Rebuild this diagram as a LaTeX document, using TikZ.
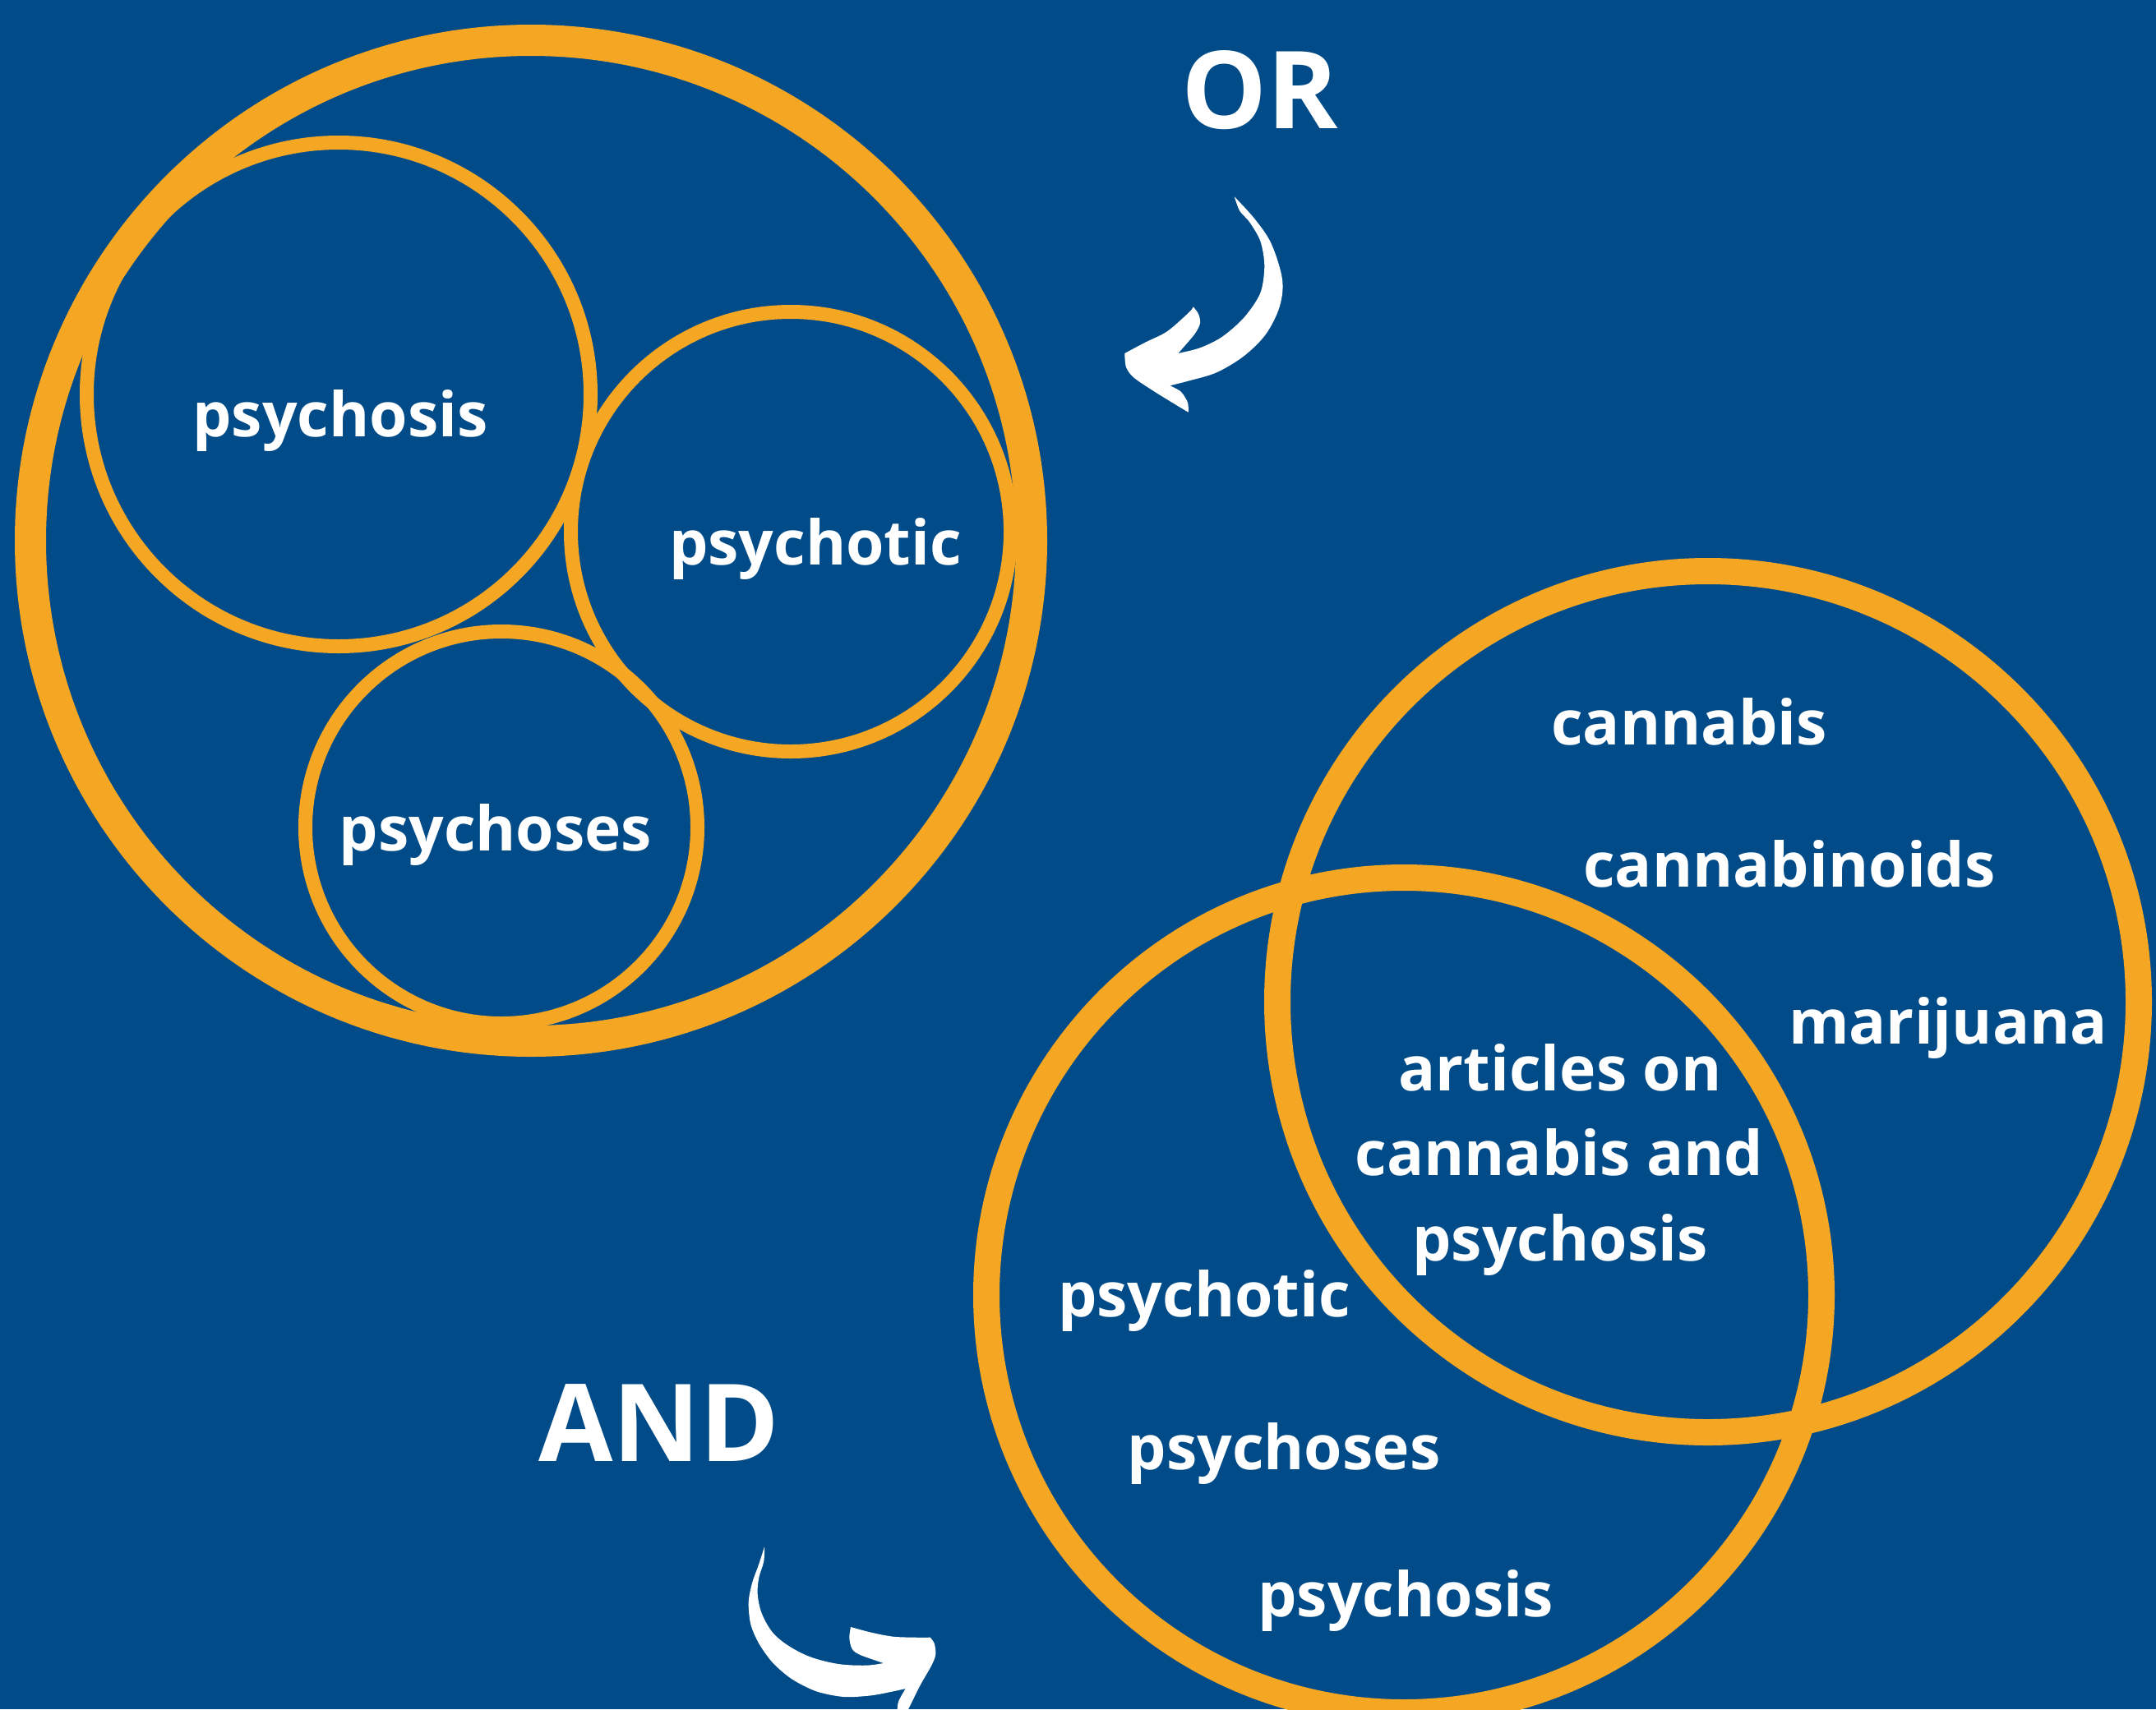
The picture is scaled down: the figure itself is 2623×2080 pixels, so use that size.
\documentclass[tikz,border=0pt]{standalone}
\usepackage{fontspec}
\setmainfont{Open Sans}
\definecolor{bg}{RGB}{1,76,136}
\definecolor{gold}{RGB}{245,166,35}
\begin{document}
\begin{tikzpicture}[x=1pt,y=-1pt,
  thickring/.style={draw=gold,line width=38pt},
  venn/.style={draw=gold,line width=32pt},
  thinring/.style={draw=gold,line width=17pt},
  lbl/.style={text=white,font=\fontsize{75}{90}\selectfont\bfseries,inner sep=0pt,anchor=base},
  bigword/.style={text=white,font=\fontsize{131}{150}\selectfont\bfseries,inner sep=0pt,anchor=base},
  arrowfill/.style={fill=white}]
\fill[bg] (0,0) rectangle (2623,2080);
\useasboundingbox (0,0) rectangle (2623,2080);

% OR group
\draw[thickring] (646,658) circle[radius=609];
\draw[thinring] (412,480) circle[radius=306.5];
\draw[thinring] (962,647) circle[radius=267.5];
\draw[thinring] (610,1007) circle[radius=238.5];
\node[lbl] (orA) at (414,531) {psychosis};
\node[lbl] (orB) at (992,687) {psychotic};
\node[lbl] (orC) at (603,1035) {psychoses};
\node[bigword] (or) at (1533,156) {OR};

% AND group
\draw[venn] (2078,1219) circle[radius=524];
\draw[venn] (1708,1576) circle[radius=508];
\node[lbl] (c1) at (2055,906) {cannabis};
\node[lbl] (c2) at (2177,1079) {cannabinoids};
\node[lbl] (c3) at (2370,1270) {marijuana};
\node[lbl] (a1) at (1898,1327) {articles on};
\node[lbl] (a2) at (1897,1430) {cannabis and};
\node[lbl] (a3) at (1898,1534) {psychosis};
\node[lbl] (p1) at (1465,1602) {psychotic};
\node[lbl] (p2) at (1562,1788) {psychoses};
\node[lbl] (p3) at (1710,1967) {psychosis};
\node[bigword] (and) at (802,1778) {AND};

% OR arrow
\fill[arrowfill] plot[smooth,tension=0.55] coordinates {(1501.7,239.3) (1526.7,266.7) (1546.7,296.7) (1560,340) (1556.7,373.3) (1540,406.7) (1513.3,433.3) (1480,453.3) (1446.7,463.3) (1423.3,469.3)}
 -- plot[smooth] coordinates {(1423.3,469.3) (1436.7,476.7) (1445,490) (1445.7,501.7)}
 -- plot[smooth] coordinates {(1445.7,501.7) (1410,480) (1380,460) (1370,446.7) (1368.3,430)}
 -- plot[smooth] coordinates {(1368.3,430) (1393.3,416.7) (1420,403.3) (1446.7,380) (1451.7,373.3)}
 -- plot[smooth] coordinates {(1451.7,373.3) (1458,382) (1460,393.3) (1453.3,406.7) (1433.3,430)}
 -- plot[smooth] coordinates {(1433.3,430) (1460,423.3) (1486.7,410) (1513.3,386.7) (1533.3,356.7) (1538.3,323.3) (1533.3,293.3) (1520,270) (1508.3,256.7) (1501.7,239.3)} -- cycle;

% AND arrow
\fill[arrowfill] plot[smooth,tension=0.55] coordinates {(930,1882.3) (929.3,1900) (923.3,1920) (921.7,1940) (926.7,1963.3) (940,1986.7) (960,2003.3) (986.7,2016.7) (1020,2025) (1053.3,2026.7) (1075,2024)}
 -- plot[smooth] coordinates {(1075,2024) (1046.7,2014) (1036.7,2006.7) (1033.3,1993.3) (1035,1980)}
 -- plot[smooth] coordinates {(1035,1980) (1060,1986.7) (1086.7,1991.7) (1113.3,1992.7) (1131.7,1992.7)}
 -- plot[smooth] coordinates {(1131.7,1992.7) (1136.7,2000) (1138.3,2013.3) (1133.3,2026.7) (1120,2050) (1110,2070) (1100,2090)}
 -- (1088,2090)
 -- plot[smooth] coordinates {(1091.7,2080) (1093.3,2070) (1101.7,2055)}
 -- plot[smooth] coordinates {(1101.7,2055) (1086.7,2058.3) (1060,2063.3) (1026.7,2065) (993.3,2058.3) (963.3,2043.3) (940,2023.3) (923.3,2000) (913.3,1976.7) (910.7,1950) (915,1926.7) (923.3,1903.3) (930,1882.3)} -- cycle;
\end{tikzpicture}
\end{document}
